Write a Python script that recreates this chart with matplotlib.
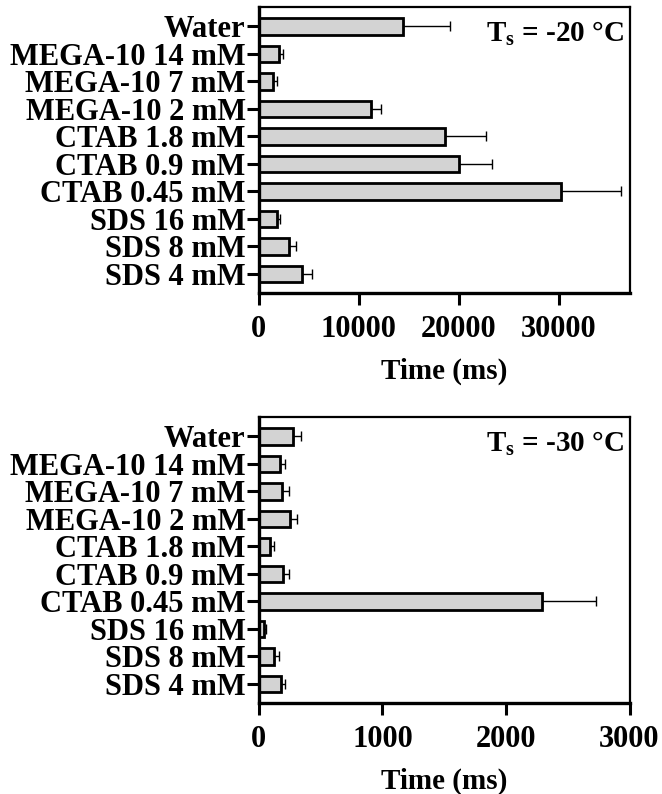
import numpy as np
import matplotlib
matplotlib.use("Agg")
import matplotlib.pyplot as plt

plt.rcParams['font.family'] = ['Liberation Serif', 'DejaVu Serif']
plt.rcParams['font.weight'] = 'bold'
plt.rcParams['mathtext.fontset'] = 'custom'
plt.rcParams['mathtext.bf'] = 'Liberation Serif:bold'
plt.rcParams['mathtext.rm'] = 'Liberation Serif:bold'

samples = ['Water', 'MEGA-10 14 mM', 'MEGA-10 7 mM', 'MEGA-10 2 mM',
           'CTAB 1.8 mM', 'CTAB 0.9 mM', 'CTAB 0.45 mM',
           'SDS 16 mM', 'SDS 8 mM', 'SDS 4 mM']

# Ts = -20 C
time_20 = [14430, 2000, 1370, 11200, 18670, 20030, 30200, 1770, 3000, 4270]
err_20 = [4740, 370, 400, 1070, 4100, 3300, 6000, 330, 700, 1000]

# Ts = -30 C
time_30 = [276, 168, 186, 249, 89, 192, 2292, 41, 124, 178]
err_30 = [62, 46, 57, 59, 30, 51, 440, 18, 38, 36]

panels = [
    (time_20, err_20, r'$\mathbf{T_s}$ = -20 °C', 37100, [0, 10000, 20000, 30000]),
    (time_30, err_30, r'$\mathbf{T_s}$ = -30 °C', 3000, [0, 1000, 2000, 3000]),
]

fig = plt.figure(figsize=(6.62, 7.94), dpi=100)
boxes = [[0.391, 0.631, 0.560, 0.360], [0.391, 0.1146, 0.560, 0.360]]

for box, (vals, errs, label, xmax, ticks) in zip(boxes, panels):
    ax = fig.add_axes(box)
    y = np.arange(len(samples))
    ax.barh(y, vals, height=0.6, color='#d3d3d3', edgecolor='black',
            linewidth=2.0, zorder=2)
    ax.errorbar(vals, y, xerr=[np.zeros(len(errs)), errs], fmt='none',
                ecolor='black', elinewidth=1.0, capsize=3.5, capthick=1.0, zorder=1)
    ax.set_yticks(y)
    ax.set_yticklabels(samples, fontsize=22, fontweight='bold')
    ax.set_ylim(len(samples) - 0.3, -0.7)
    ax.set_xlim(0, xmax)
    ax.set_xticks(ticks)
    ax.set_xticklabels([str(t) for t in ticks], fontsize=22, fontweight='bold')
    ax.set_xlabel('Time (ms)', fontsize=21, fontweight='bold', labelpad=10)
    ax.tick_params(axis='both', direction='out', length=8.5, width=2.2, pad=1)
    ax.tick_params(axis='x', pad=7)
    for side in ['left', 'bottom']:
        ax.spines[side].set_linewidth(2.4)
    for side in ['top', 'right']:
        ax.spines[side].set_linewidth(1.6)
    ax.text(0.985, 0.955, label, transform=ax.transAxes, ha='right', va='top',
            fontsize=21, fontweight='bold')

fig.savefig('out.png', dpi=100)
